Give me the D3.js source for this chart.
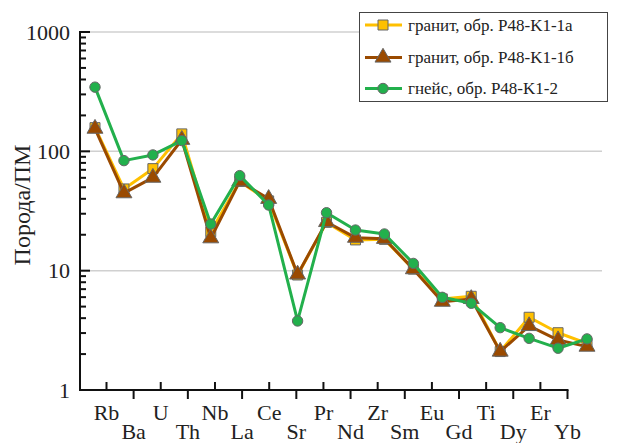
<!DOCTYPE html>
<html><head><meta charset="utf-8">
<script src="https://cdn.jsdelivr.net/npm/d3@7"></script>
</head>
<body style="margin:0;background:#fff">
<svg id="c" width="618" height="443" font-family="Liberation Serif, DejaVu Serif, serif" style="font-family:'Liberation Serif','DejaVu Serif',serif"></svg>
<script>
const elements = ["Rb","Ba","U","Th","Nb","La","Ce","Sr","Pr","Nd","Zr","Sm","Eu","Gd","Ti","Dy","Er","Yb"];
const granite1a = [158,48.4,71.6,140,21.2,56,38.4,9.2,25.4,18.1,18.3,10.3,5.8,6.1,2.1,4.07,3.02,2.46];
const granite1b = [155,44.6,60.2,125,18.7,56,40,9.3,25.6,18.9,18.5,10.3,5.5,5.8,2.1,3.44,2.62,2.31];
const gneiss    = [345,83.6,93.3,123,24.6,62.6,35.5,3.79,30.6,21.9,20.3,11.5,5.98,5.33,3.33,2.71,2.24,2.68];
const seriesNames = ["гранит, обр. P48-K1-1а","гранит, обр. P48-K1-1б","гнейс, обр. P48-K1-2"];
const yTickLabels = [1,10,100,1000];

const svg = d3.select("#c");
const X0 = 80, Y0 = 390, Y1 = 32;
const y = d3.scaleLog().domain([1,1000]).range([Y0,Y1]);
const xData = d3.scalePoint().domain(elements).range([95,587]);
const xAxisScale = d3.scalePoint().domain(elements).range([106.5,567.5]);

// gridlines
svg.append("g").selectAll("line").data([10,100,1000]).join("line")
  .attr("x1",X0).attr("x2",602).attr("y1",d=>y(d)).attr("y2",d=>y(d))
  .attr("stroke","#d0d0d0").attr("stroke-width",1.5);

// y axis ticks (minor 6px, major 10px, inside)
const allTicks = [];
for (let e=0;e<3;e++) for (let m=1;m<=9;m++) allTicks.push(m*Math.pow(10,e));
allTicks.push(1000);
const yAx = svg.append("g").attr("transform",`translate(${X0},0)`);
yAx.selectAll("line.t").data(allTicks).join("line").attr("class","t")
  .attr("x1",0).attr("x2",d=>yTickLabels.includes(d)?10:6)
  .attr("y1",d=>y(d)).attr("y2",d=>y(d)).attr("stroke","#111").attr("stroke-width",2);
yAx.append("line").attr("x1",0).attr("x2",0).attr("y1",Y0+1).attr("y2",Y1-1)
  .attr("stroke","#111").attr("stroke-width",2);
yAx.selectAll("text").data(yTickLabels).join("text")
  .attr("x",-10).attr("y",d=>y(d)).attr("dy","0.35em").attr("text-anchor","end")
  .attr("font-size",22).attr("fill","#222").text(d=>d3.format("d")(d));

// x axis
svg.append("line").attr("x1",X0-1).attr("x2",xAxisScale("Yb")+1).attr("y1",Y0).attr("y2",Y0)
  .attr("stroke","#111").attr("stroke-width",2);
const xt = svg.append("g").selectAll("g").data(elements).join("g")
  .attr("transform",d=>`translate(${xAxisScale(d)},${Y0})`);
xt.append("line").attr("y1",0).attr("y2",(d,i)=>i%2===0?-8:9).attr("stroke","#111").attr("stroke-width",2);
xt.append("text").attr("text-anchor","middle").attr("font-size",22).attr("fill","#222")
  .attr("y",(d,i)=>i%2===0?30:49).text(d=>d);

// y label
svg.append("text").attr("transform","translate(30,205) rotate(-90)")
  .attr("text-anchor","middle").attr("font-size",24).attr("fill","#222").text("Порода/ПМ");

// series
const colors = ["#FFC000","#9A4A00","#22B04C"];
const datasets = [granite1a, granite1b, gneiss];
const shapes = [d3.symbolSquare, d3.symbolTriangle, d3.symbolCircle];
const sizes = [100, 110, 85];
const line = d3.line().x((d,i)=>xData(elements[i])).y(d=>y(d));
datasets.forEach((ds,k)=>{
  const g = svg.append("g");
  g.append("path").datum(ds).attr("d",line).attr("fill","none")
    .attr("stroke",colors[k]).attr("stroke-width",3).attr("stroke-linejoin","round");
  g.selectAll("path.m").data(ds).join("path").attr("class","m")
    .attr("transform",(d,i)=>`translate(${xData(elements[i])},${y(d)})`)
    .attr("d",d3.symbol().type(shapes[k]).size(sizes[k]))
    .attr("fill",colors[k]).attr("stroke","#666").attr("stroke-width",1);
});

// legend
const lg = svg.append("g");
lg.append("rect").attr("x",359.5).attr("y",12.5).attr("width",248).attr("height",89)
  .attr("fill","#fff").attr("stroke","#444").attr("stroke-width",1);
const rowsY = [25,57.5,88.5];
seriesNames.forEach((n,k)=>{
  lg.append("line").attr("x1",365).attr("x2",402).attr("y1",rowsY[k]).attr("y2",rowsY[k])
    .attr("stroke",colors[k]).attr("stroke-width",3);
  lg.append("path").attr("transform",`translate(383,${rowsY[k]})`)
    .attr("d",d3.symbol().type(shapes[k]).size(sizes[k]))
    .attr("fill",colors[k]).attr("stroke","#666").attr("stroke-width",1);
  lg.append("text").attr("x",408).attr("y",rowsY[k]).attr("dy","0.35em")
    .attr("font-size",17).attr("fill","#222").text(n);
});
</script></body></html>
